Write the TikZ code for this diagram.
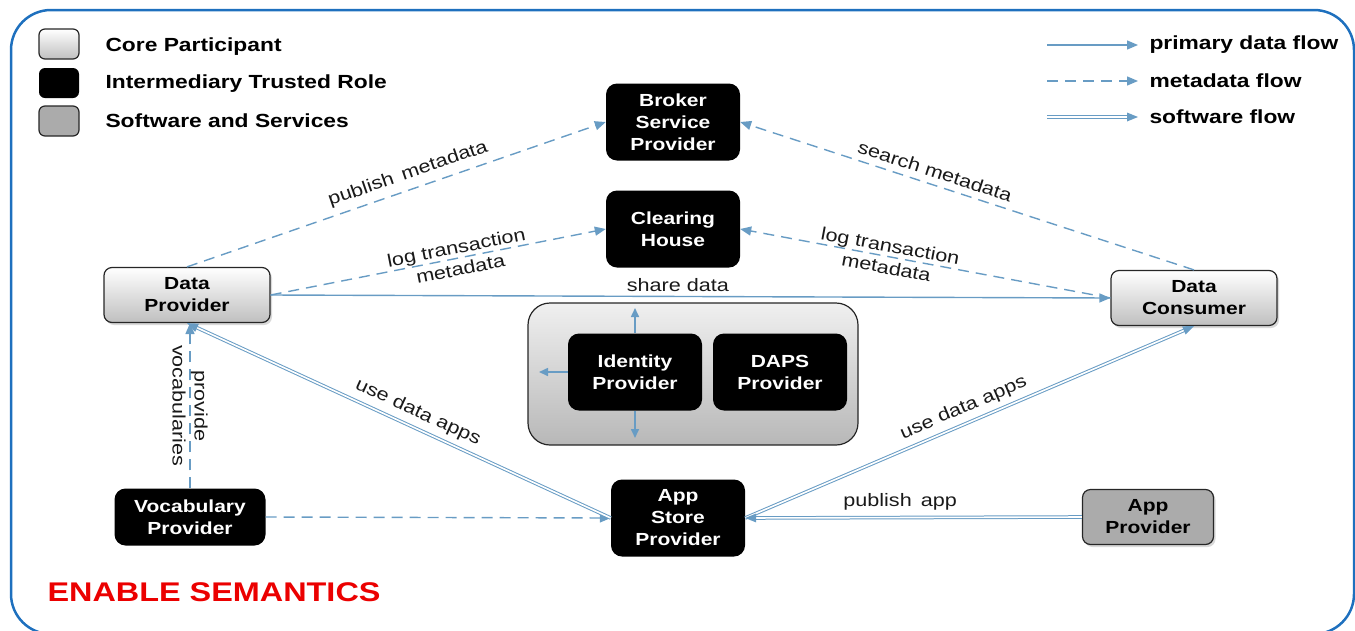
\documentclass[tikz,border=0pt]{standalone}
\usepackage{fontspec}
\setmainfont{Liberation Sans}[FakeStretch=1.2]
\usetikzlibrary{arrows.meta,shadows,decorations.markings}
\definecolor{flow}{RGB}{104,156,196}
\definecolor{frameblue}{RGB}{30,112,190}
\definecolor{enred}{RGB}{235,0,0}
\tikzset{
  nodefont/.style={font=\bfseries\fontsize{17.5}{22}\selectfont},
  corebox/.style={nodefont, draw=black!85, line width=1.2pt, rounded corners=8pt,
     top color=white, bottom color=black!25, minimum width=166pt, minimum height=55pt,
     align=center, drop shadow={shadow xshift=2pt, shadow yshift=-2.5pt, opacity=0.3}},
  trustbox/.style={nodefont, fill=black, text=white, rounded corners=11pt,
     minimum width=134pt, minimum height=77pt, align=center},
  swbox/.style={nodefont, draw=black!85, line width=1.2pt, rounded corners=8pt,
     fill=black!33, minimum width=131pt, minimum height=55pt, align=center,
     drop shadow={shadow xshift=2pt, shadow yshift=-2.5pt, opacity=0.3}},
  tip/.style={-{Triangle[length=11pt,width=9pt]}},
  primflow/.style={draw=flow, line width=1.4pt, tip},
  metaflow/.style={draw=flow, line width=1.4pt, dash pattern=on 11pt off 7pt, tip},
  softflow/.style={draw=flow, line width=1pt, double=white, double distance=1.6pt,
     shorten >=8pt,
     postaction={draw=none, decorate, decoration={markings,
        mark=at position 1 with {\fill[flow] (0pt,0pt) -- (-11pt,4.5pt) -- (-11pt,-4.5pt) -- cycle;}}}},
  lbl/.style={font=\fontsize{18}{22}\selectfont, text=black!90},
  legtext/.style={font=\bfseries\fontsize{19}{22}\selectfont, anchor=west},
  legbox/.style={minimum width=40pt, minimum height=30pt, rounded corners=6pt, line width=1.2pt},
  smallflow/.style={draw=flow, line width=1.6pt, -{Triangle[length=9pt,width=8pt]}}
}
\begin{document}
\begin{tikzpicture}[x=1pt,y=-1pt]
\useasboundingbox (0,0) rectangle (1355,630);
% frame
\draw[frameblue, line width=2.5pt, rounded corners=40pt] (11,10) rectangle (1354,634);

% legend left
\node[legbox, draw=black!85, top color=white, bottom color=black!25] (lg1) at (59,44) {};
\node[legbox, fill=black] (lg2) at (59,83) {};
\node[legbox, draw=black!85, fill=black!33] (lg3) at (59,121) {};
\node[legtext] (lt1) at (102,47) {Core Participant};
\node[legtext] (lt2) at (102,84) {Intermediary Trusted Role};
\node[legtext] (lt3) at (102,121) {Software and Services};

% legend right
\coordinate (la1) at (1047,45); \coordinate (lb1) at (1138,45);
\coordinate (la2) at (1047,81); \coordinate (lb2) at (1138,81);
\coordinate (la3) at (1047,117); \coordinate (lb3) at (1138,117);
\draw[primflow] (la1) -- (lb1);
\draw[metaflow] (la2) -- (lb2);
\draw[softflow] (la3) -- (lb3);
\node[legtext] (rt1) at (1146,45) {primary data flow};
\node[legtext] (rt2) at (1146,81) {metadata flow};
\node[legtext] (rt3) at (1146,117) {software flow};

% nodes
\node[trustbox] (broker) at (673,122) {Broker\\Service\\Provider};
\node[trustbox] (clearing) at (673,229) {Clearing\\House};
\node[corebox] (dp) at (187,295) {Data\\Provider};
\node[corebox] (dc) at (1194,298) {Data\\Consumer};
\node[draw=black!85, line width=1.2pt, rounded corners=22pt, top color=black!6, bottom color=black!28,
      minimum width=330pt, minimum height=142pt] (trust) at (693,374) {};
\node[trustbox] (idp) at (635,372) {Identity\\Provider};
\node[trustbox] (daps) at (780,372) {DAPS\\Provider};
\node[trustbox, minimum width=151pt, minimum height=57pt] (vocab) at (190,517) {Vocabulary\\Provider};
\node[trustbox] (appstore) at (678,518) {App\\Store\\Provider};
\node[swbox] (appprov) at (1148,517) {App\\Provider};
\node[font=\bfseries\fontsize{27}{30}\selectfont, text=enred, anchor=west] (enable) at (44,592) {ENABLE SEMANTICS};

% identity arrows
\coordinate (iu) at (635,308);
\coordinate (il) at (539,372);
\coordinate (id) at (635,438);
\draw[smallflow] (idp.north) -- (iu);
\draw[smallflow] (idp.west) -- (il);
\draw[smallflow] (idp.south) -- (id);

% connectors
\draw[metaflow] (dp.north) -- node[lbl, pos=0.54, sloped, above=3pt] {publish\, metadata} (broker.west);
\draw[metaflow] (dp.east) -- node[lbl, pos=0.56, sloped, align=center] {log transaction\\metadata} (clearing.west);
\draw[primflow] (dp.east) -- node[lbl, pos=0.485, above=1pt] {share data} (dc.west);
\draw[metaflow] (dc.north) -- node[lbl, pos=0.58, sloped, above=3pt] {search metadata} (broker.east);
\draw[metaflow] (dc.west) -- node[lbl, pos=0.6, sloped, align=center] {log transaction\\metadata} (clearing.east);
\draw[metaflow] (vocab.north) -- node[lbl, midway, rotate=-90, align=center] {provide\\vocabularies} (dp.south -| vocab.north);
\draw[metaflow] (vocab.east) -- (appstore.west);
\draw[softflow] (appstore.west) -- node[lbl, pos=0.47, sloped, above=3pt] {use data apps} (dp.south);
\draw[softflow] (appstore.east) -- node[lbl, pos=0.5, sloped, above=3pt] {use data apps} (dc.south);
\draw[softflow] (appprov.west) -- node[lbl, pos=0.54, above=3pt] {publish\, app} (appstore.east);
\end{tikzpicture}
\end{document}
